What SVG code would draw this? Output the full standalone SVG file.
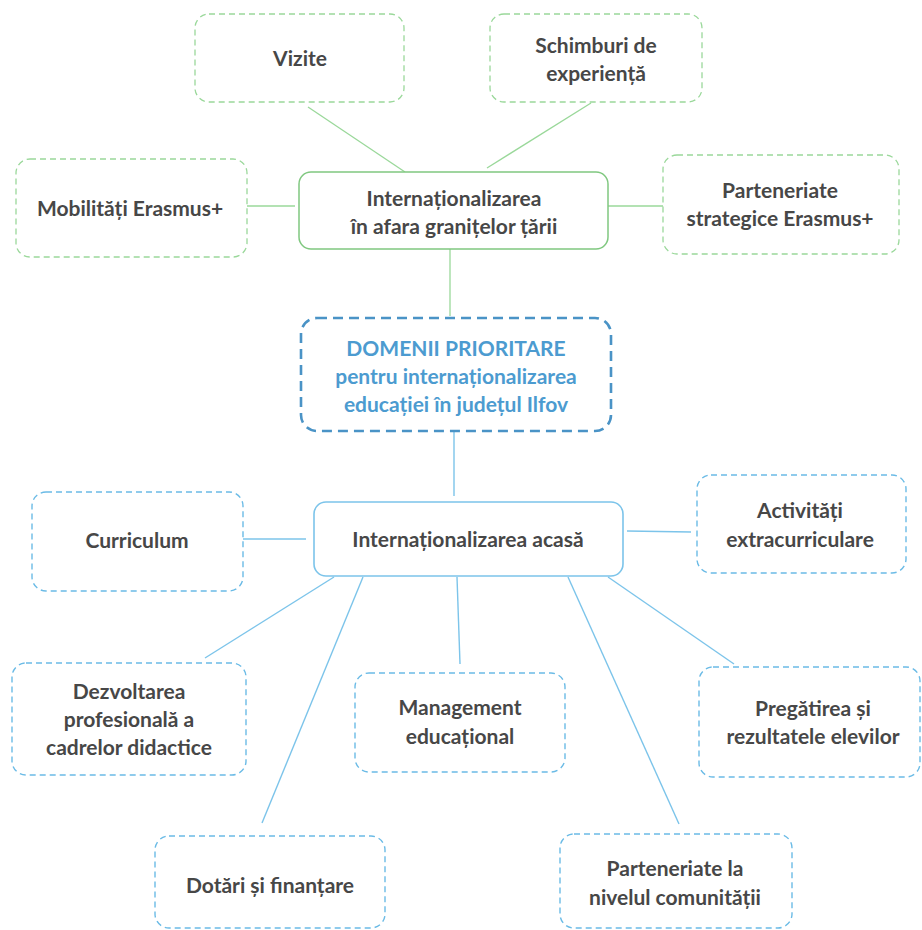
<svg xmlns="http://www.w3.org/2000/svg" width="922" height="930" viewBox="0 0 922 930">
<style>
.gd{fill:#fff;stroke:#9ad89a;stroke-width:1.3;stroke-dasharray:6 4}
.gs{fill:#fff;stroke:#80c880;stroke-width:1.5}
.bd{fill:#fff;stroke:#6bbbe6;stroke-width:1.4;stroke-dasharray:6 4}
.bs{fill:#fff;stroke:#7cc4ea;stroke-width:1.6}
.bm{fill:#fff;stroke:#4a93c6;stroke-width:2.6;stroke-dasharray:10 6}
text{font-family:Lato,"Open Sans","Liberation Sans",sans-serif;font-weight:bold;font-size:21px;fill:#474747;text-anchor:middle}
.bt{fill:#4c9bd0}
.gl{stroke:#9ad89a;stroke-width:1.3;fill:none}
.bl{stroke:#7cc4ea;stroke-width:1.4;fill:none}
</style>
<rect width="922" height="930" fill="#fff"/>
<g id="connectors">
<line class="gl" x1="308" y1="107" x2="405" y2="172"/>
<line class="gl" x1="591" y1="103" x2="487" y2="168"/>
<line class="gl" x1="247" y1="206" x2="295" y2="206"/>
<line class="gl" x1="606" y1="206" x2="663" y2="206"/>
<line class="gl" x1="450" y1="249" x2="450" y2="316"/>
<line class="bl" x1="454" y1="431" x2="454" y2="496"/>
<line class="bl" x1="243" y1="539" x2="306" y2="539"/>
<line class="bl" x1="627" y1="531" x2="691" y2="532"/>
<line class="bl" x1="334" y1="577" x2="205" y2="658"/>
<line class="bl" x1="363" y1="577" x2="262" y2="823"/>
<line class="bl" x1="457" y1="577" x2="460" y2="664"/>
<line class="bl" x1="608" y1="577" x2="734" y2="664"/>
<line class="bl" x1="568" y1="577" x2="679" y2="824"/>
</g>
<g id="vizite"><rect class="gd" x="195" y="14" width="209" height="88" rx="14"/><text x="300" y="66">Vizite</text></g>
<g id="schimburi"><rect class="gd" x="490" y="14" width="212" height="88" rx="14"/><text x="596" y="53">Schimburi de</text><text x="596" y="81">experiență</text></g>
<g id="mobilitati"><rect class="gd" x="16" y="159" width="231" height="98" rx="14"/><text x="130" y="216">Mobilități Erasmus+</text></g>
<g id="intl-afara"><rect class="gs" x="299" y="172" width="309" height="77" rx="12"/><text x="454" y="206">Internaționalizarea</text><text x="454" y="234">în afara granițelor țării</text></g>
<g id="parteneriate-strategice"><rect class="gd" x="663" y="155" width="236" height="99" rx="14"/><text x="780" y="198">Parteneriate</text><text x="780" y="226">strategice Erasmus+</text></g>
<g id="domenii"><rect class="bm" x="301" y="318" width="310" height="113" rx="16"/><text class="bt" x="456" y="356">DOMENII PRIORITARE</text><text class="bt" x="456" y="384">pentru internaționalizarea</text><text class="bt" x="456" y="412">educației în județul Ilfov</text></g>
<g id="intl-acasa"><rect class="bs" x="314" y="502" width="309" height="74" rx="12"/><text x="468" y="547">Internaționalizarea acasă</text></g>
<g id="curriculum"><rect class="bd" x="32" y="492" width="211" height="99" rx="14"/><text x="137" y="548">Curriculum</text></g>
<g id="activitati"><rect class="bd" x="697" y="475" width="209" height="98" rx="14"/><text x="800" y="518">Activități</text><text x="800" y="547">extracurriculare</text></g>
<g id="dezvoltarea"><rect class="bd" x="12" y="663" width="234" height="112" rx="14"/><text x="129" y="699">Dezvoltarea</text><text x="129" y="727">profesională a</text><text x="129" y="755">cadrelor didactice</text></g>
<g id="management"><rect class="bd" x="355" y="673" width="210" height="99" rx="14"/><text x="460" y="715">Management</text><text x="460" y="744">educațional</text></g>
<g id="pregatirea"><rect class="bd" x="699" y="667" width="221" height="110" rx="14"/><text x="813" y="716">Pregătirea și</text><text x="813" y="744">rezultatele elevilor</text></g>
<g id="dotari"><rect class="bd" x="155" y="836" width="230" height="92" rx="14"/><text x="270" y="893">Dotări și finanțare</text></g>
<g id="parteneriate-comunitate"><rect class="bd" x="560" y="834" width="232" height="94" rx="14"/><text x="675" y="876">Parteneriate la</text><text x="675" y="905">nivelul comunității</text></g>
</svg>
